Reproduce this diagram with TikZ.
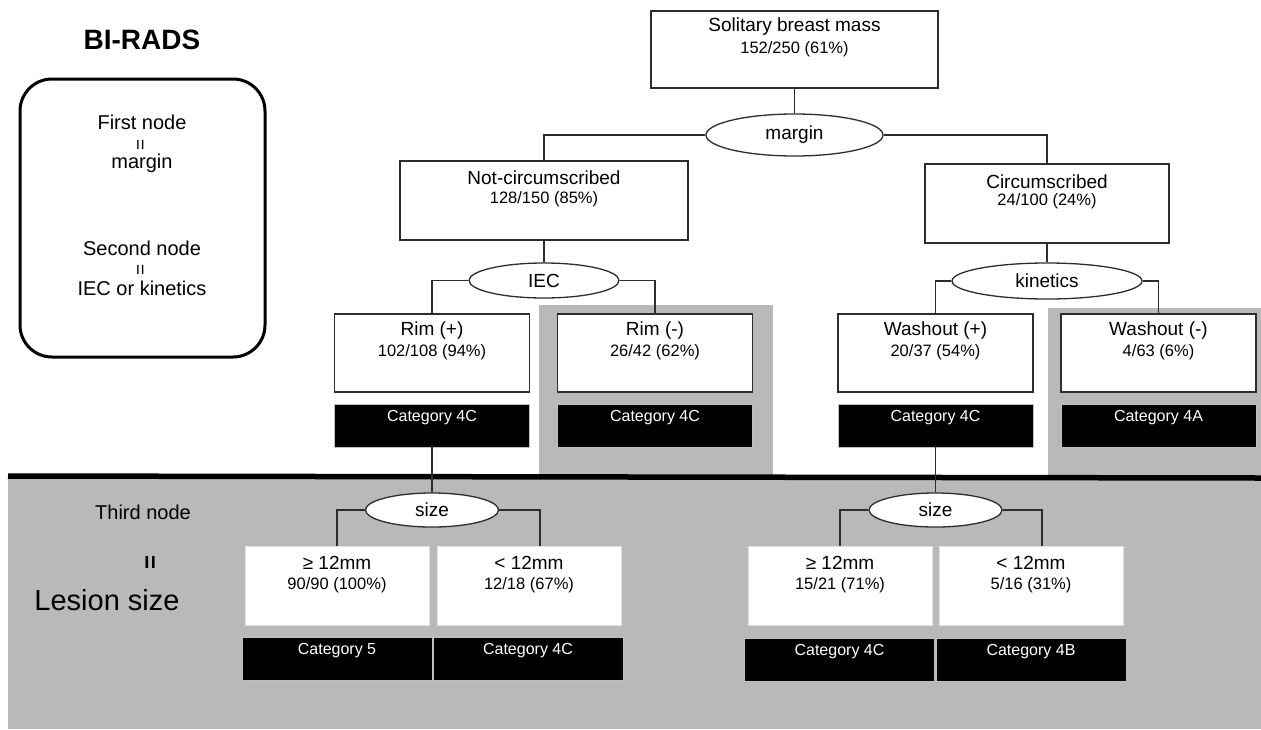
\documentclass[tikz,border=0pt]{standalone}
\usepackage{fontspec}
\setmainfont{Liberation Sans}
\usetikzlibrary{shapes.geometric,calc}
\definecolor{panel}{RGB}{185,185,185}
\definecolor{ln}{RGB}{45,45,45}
\begin{document}
\begin{tikzpicture}[x=1pt,y=-1pt,
  box/.style={draw=ln, line width=1.3pt, fill=white, inner sep=0pt},
  wbox/.style={draw=white!88!black, line width=0.6pt, fill=white, inner sep=0pt},
  catbox/.style={fill=black, draw=white!75!black, line width=0.5pt, inner sep=0pt},
  oval/.style={ellipse, draw=ln, line width=1.3pt, fill=white, inner sep=0pt,
    font=\fontsize{19}{20}\selectfont},
  conn/.style={draw=ln, line width=1.3pt},
  ttl/.style={inner sep=0pt, font=\fontsize{19}{21}\selectfont},
  num/.style={inner sep=0pt, font=\fontsize{16.5}{19}\selectfont},
  cattxt/.style={inner sep=0pt, text=white, font=\fontsize{16}{18}\selectfont},
  side/.style={inner sep=0pt, font=\fontsize{20}{22}\selectfont},
]
\useasboundingbox (0,0) rectangle (1261,729);
\fill[white] (0,0) rectangle (1261,729);

% gray panels
\fill[panel] (539,305) rectangle (773,477);
\fill[panel] (1048,308) rectangle (1261,477);
\fill[panel] (8,477) rectangle (1261,729);
\draw[line width=5.5pt, black] (8,476) -- (1261,478);

% legend
\node[inner sep=0pt, font=\bfseries\fontsize{28}{30}\selectfont] (birads) at (142,40) {BI-RADS};
\draw[line width=3pt, rounded corners=32pt] (20,79) rectangle (265,357);
\node[side] (first) at (142,122) {First node};
\node[inner sep=0pt, rotate=90, font=\fontsize{19}{20}\selectfont] (eq1) at (142,145) {=};
\node[side] (marg) at (142,163) {margin};
\node[side] (second) at (142,248) {Second node};
\node[inner sep=0pt, rotate=90, font=\fontsize{19}{20}\selectfont] (eq2) at (142,270) {=};
\node[side] (iecor) at (142,288) {IEC or kinetics};

\node[side] (third) at (143,512) {Third node};
\node[inner sep=0pt, rotate=90, font=\bfseries\fontsize{24}{26}\selectfont] (eq3) at (152,562) {=};
\node[inner sep=0pt, font=\fontsize{29}{32}\selectfont] (lesion) at (107,600) {Lesion size};

% level 0
\node[box, minimum width=287pt, minimum height=77pt] (sol) at (794.5,49.5) {};
\node[ttl] at (794.5,27) {Solitary breast mass};
\node[num] at (794.5,49) {152/250 (61\%)};
\node[oval, minimum width=177pt, minimum height=42pt] (margin) at (794.5,135) {margin};

% level 1
\node[box, minimum width=288pt, minimum height=79pt] (notc) at (544,200.5) {};
\node[ttl] at (544,178) {Not-circumscribed};
\node[num] at (544,199) {128/150 (85\%)};
\node[box, minimum width=244pt, minimum height=79pt] (circ) at (1047,203.5) {};
\node[ttl] at (1047,182) {Circumscribed};
\node[num] at (1047,201) {24/100 (24\%)};

\node[oval, minimum width=150pt, minimum height=35pt] (iec) at (544,280.5) {IEC};
\node[oval, minimum width=190pt, minimum height=36pt] (kin) at (1047,281) {kinetics};

% level 2
\node[box, minimum width=195pt, minimum height=78pt] (rimp) at (432,353) {};
\node[ttl] at (432,331) {Rim (+)};
\node[num] at (432,352) {102/108 (94\%)};
\node[box, minimum width=195pt, minimum height=78pt] (rimm) at (655,353) {};
\node[ttl] at (655,331) {Rim (-)};
\node[num] at (655,352) {26/42 (62\%)};
\node[box, minimum width=195pt, minimum height=78pt] (wp) at (935.5,353) {};
\node[ttl] at (935.5,331) {Washout (+)};
\node[num] at (935.5,352) {20/37 (54\%)};
\node[box, minimum width=195pt, minimum height=78pt] (wm) at (1158.5,353) {};
\node[ttl] at (1158.5,331) {Washout (-)};
\node[num] at (1158.5,352) {4/63 (6\%)};

\node[catbox, minimum width=195pt, minimum height=43pt] (c1) at (432,425.5) {};
\node[cattxt] at (432,418) {Category 4C};
\node[catbox, minimum width=195pt, minimum height=43pt] (c2) at (655,425.5) {};
\node[cattxt] at (655,418) {Category 4C};
\node[catbox, minimum width=195pt, minimum height=43pt] (c3) at (935.5,425.5) {};
\node[cattxt] at (935.5,418) {Category 4C};
\node[catbox, minimum width=195pt, minimum height=43pt] (c4) at (1158.5,425.5) {};
\node[cattxt] at (1158.5,418) {Category 4A};

% level 3
\node[oval, minimum width=133pt, minimum height=34pt] (size1) at (432,510) {size};
\node[oval, minimum width=133pt, minimum height=34pt] (size2) at (935.5,510) {size};

\node[wbox, minimum width=184pt, minimum height=79pt] (ge1) at (337,585.5) {};
\node[ttl] at (337,563) {≥ 12mm};
\node[num] at (337,585) {90/90 (100\%)};
\node[wbox, minimum width=184pt, minimum height=79pt] (lt1) at (529,585.5) {};
\node[ttl] at (529,563) {< 12mm};
\node[num] at (529,585) {12/18 (67\%)};
\node[wbox, minimum width=184pt, minimum height=79pt] (ge2) at (840,585.5) {};
\node[ttl] at (840,563) {≥ 12mm};
\node[num] at (840,585) {15/21 (71\%)};
\node[wbox, minimum width=184pt, minimum height=79pt] (lt2) at (1031,585.5) {};
\node[ttl] at (1031,563) {< 12mm};
\node[num] at (1031,585) {5/16 (31\%)};

\node[catbox, minimum width=190pt, minimum height=43pt] (d1) at (337,658.5) {};
\node[cattxt] at (337,651) {Category 5};
\node[catbox, minimum width=190pt, minimum height=43pt] (d2) at (528,658.5) {};
\node[cattxt] at (528,651) {Category 4C};
\node[catbox, minimum width=190pt, minimum height=43pt] (d3) at (839.5,659.5) {};
\node[cattxt] at (839.5,652) {Category 4C};
\node[catbox, minimum width=190pt, minimum height=43pt] (d4) at (1031,659.5) {};
\node[cattxt] at (1031,652) {Category 4B};

% connectors
\draw[conn] (sol.south) -- (margin.north);
\draw[conn] (margin.west) -| (notc.north);
\draw[conn] (margin.east) -| (circ.north);
\draw[conn] (notc.south) -- (iec.north);
\draw[conn] (iec.west) -| (rimp.north);
\draw[conn] (iec.east) -| (rimm.north);
\draw[conn] (circ.south) -- (kin.north);
\draw[conn] (kin.west) -| (wp.north);
\draw[conn] (kin.east) -| (wm.north);
\draw[conn] (c1.south) -- (size1.north);
\draw[conn] (c3.south) -- (size2.north);
\draw[conn] (size1.west) -| (ge1.north);
\draw[conn] (size1.east) -| ([xshift=11pt]lt1.north);
\draw[conn] (size2.west) -| (ge2.north);
\draw[conn] (size2.east) -| ([xshift=11pt]lt2.north);
\end{tikzpicture}
\end{document}
